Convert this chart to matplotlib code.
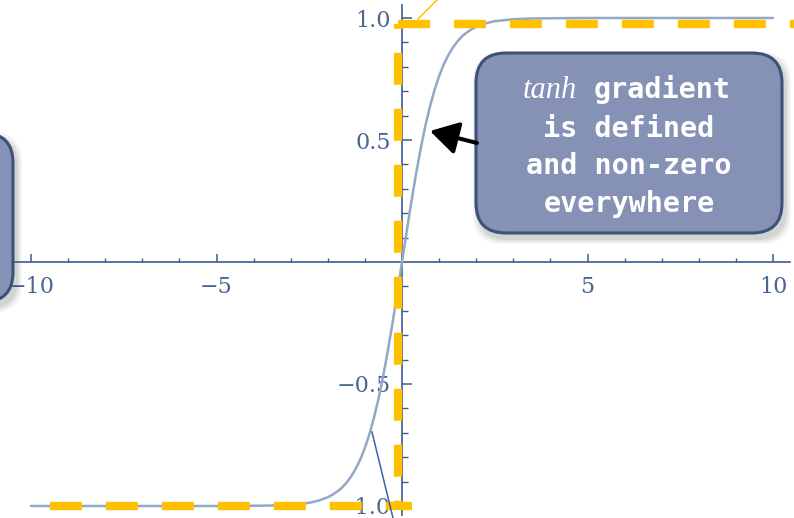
import numpy as np
import matplotlib.pyplot as plt
from matplotlib.patches import FancyBboxPatch, FancyArrowPatch
from matplotlib.lines import Line2D
from matplotlib.ticker import FixedLocator, FixedFormatter

# tanh curve, points
curve_x = [-10, -5, -4, -3.5, -3, -2.5, -2.25, -2, -1.875, -1.75, -1.625, -1.5, -1.375,
           -1.25, -1.125, -1, -0.875, -0.75, -0.625, -0.5, -0.375, -0.25, -0.125, 0,
           0.125, 0.25, 0.375, 0.5, 0.625, 0.75, 0.875, 1, 1.125, 1.25, 1.375, 1.5,
           1.625, 1.75, 1.875, 2, 2.25, 2.5, 3, 3.5, 4, 5, 10]
curve_y = [-1.0, -1.0, -0.999, -0.998, -0.995, -0.987, -0.978, -0.964, -0.954, -0.941,
           -0.926, -0.905, -0.880, -0.848, -0.810, -0.762, -0.704, -0.635, -0.555,
           -0.462, -0.358, -0.245, -0.124, 0.0, 0.124, 0.245, 0.358, 0.462, 0.555,
           0.635, 0.704, 0.762, 0.810, 0.848, 0.880, 0.905, 0.926, 0.941, 0.954, 0.964,
           0.978, 0.987, 0.995, 0.998, 0.999, 1.0, 1.0]

# orange dashed guides (saturation levels and the switch at x=0)
top_level = 0.975
bottom_level = -1.0
switch_x = -0.12
top_span = [-0.12, 10.8]
bottom_span = [-9.49, 0.27]

x_major = [-10, -5, 5, 10]
x_major_labels = ["\u221210", "\u22125", "5", "10"]
x_minor = [v for v in range(-10, 11) if v != 0]
y_major = [-1.0, -0.5, 0.5, 1.0]
y_major_labels = ["\u22121.0", "\u22120.5", "0.5", "1.0"]
y_minor = [round(v * 0.1, 1) for v in range(-10, 11) if v != 0]

callout_lines = ["is defined", "and non-zero", "everywhere"]

W, H = 794, 518
fig = plt.figure(figsize=(W / 100, H / 100), dpi=100)
ax = fig.add_axes([0, 0, 1, 1])
ax.set_facecolor("white")


def px(x, y):
    # pixel position (from top-left) -> inches for dpi_scale_trans
    return x / 100, (H - y) / 100


inch = fig.dpi_scale_trans
axis_col = "#3b5d8f"
label_col = "#4a6592"
orange = "#ffc000"

# curve
ax.plot(curve_x, curve_y, color="#93a7c7", lw=1.8, zorder=3, solid_capstyle="round")

# orange dashed guides (dash lengths in points, not scaled)
plt.rcParams["lines.scale_dashes"] = False
dash = (23, 17.3)
ax.add_line(Line2D(top_span, [top_level, top_level], color=orange, lw=6,
                   linestyle=(0, dash), zorder=4))
ax.add_line(Line2D([switch_x, switch_x], [top_level, bottom_level], color=orange, lw=6,
                   linestyle=(19.5, dash), zorder=4))
ax.add_line(Line2D(bottom_span, [bottom_level, bottom_level], color=orange, lw=6,
                   linestyle=(0, dash), zorder=4))

# axes crossing at the origin
for s in ["top", "right"]:
    ax.spines[s].set_visible(False)
ax.spines["left"].set_position(("data", 0))
ax.spines["bottom"].set_position(("data", 0))
ax.spines["left"].set_bounds(-1.037, 1.053)
ax.spines["bottom"].set_bounds(-10.43, 10.46)
for s in ["left", "bottom"]:
    ax.spines[s].set_color(axis_col)
    ax.spines[s].set_linewidth(1.2)

ax.xaxis.set_major_locator(FixedLocator(x_major))
ax.xaxis.set_major_formatter(FixedFormatter(x_major_labels))
ax.xaxis.set_minor_locator(FixedLocator(x_minor))
ax.yaxis.set_major_locator(FixedLocator(y_major))
ax.yaxis.set_major_formatter(FixedFormatter(y_major_labels))
ax.yaxis.set_minor_locator(FixedLocator(y_minor))

ax.tick_params(axis="x", which="major", direction="in", length=5.8, width=1.1,
               color=axis_col, pad=10, labelsize=16, labelcolor=label_col)
ax.tick_params(axis="x", which="minor", direction="in", length=3.2, width=1.0, color=axis_col)
ax.tick_params(axis="y", which="major", direction="in", length=7, width=1.1,
               color=axis_col, pad=8, labelsize=16, labelcolor=label_col)
ax.tick_params(axis="y", which="minor", direction="in", length=4.3, width=1.0, color=axis_col)
for lab in ax.get_xticklabels() + ax.get_yticklabels():
    lab.set_family("DejaVu Serif")


def callout(x0, y0, x1, y1, z):
    # soft shadow
    for i, a in enumerate([0.10, 0.08, 0.06]):
        g = 2 + 2 * i
        sh = FancyBboxPatch(px(x0 + 3, y1 + 5), (x1 - x0) / 100, (y1 - y0) / 100,
                            boxstyle="round,pad=%g,rounding_size=0.3" % (g / 100),
                            transform=inch, fc="#404040", ec="none", alpha=a, zorder=z)
        ax.add_patch(sh)
    box = FancyBboxPatch(px(x0, y1), (x1 - x0) / 100, (y1 - y0) / 100,
                         boxstyle="round,pad=0,rounding_size=0.3",
                         transform=inch, fc="#8591b5", ec="#3d5278", lw=2.2, zorder=z + 2)
    ax.add_patch(box)
    grad = np.linspace(0, 1, 100).reshape(-1, 1)
    bx0, by0 = px(x0, y1)
    bx1, by1 = px(x1, y0)
    im = ax.imshow(grad, cmap=plt.matplotlib.colors.LinearSegmentedColormap.from_list(
        "g", ["#7e8aaf", "#8a96ba", "#98a3c6"]), extent=(bx0, bx1, by0, by1),
        origin="lower", aspect="auto", zorder=z + 1, interpolation="bilinear")
    im.set_transform(inch)
    im.set_clip_path(box)
    return box


callout(476, 53, 782, 233, 6)
callout(-60, 133, 13, 302, 6)

# callout text
ax.text(*px(577, 98), "tanh", transform=inch, ha="right", va="baseline",
        family="Liberation Serif", style="italic", fontsize=22, color="white", zorder=10)
ax.text(*px(594, 98), "gradient", transform=inch, ha="left", va="baseline",
        family="DejaVu Sans Mono", weight="bold", fontsize=20.5, color="white", zorder=10)
for i, line in enumerate(callout_lines):
    ax.text(*px(629, 137 + 37.5 * i), line, transform=inch, ha="center", va="baseline",
            family="DejaVu Sans Mono", weight="bold", fontsize=20.5, color="white", zorder=10)

# arrow from the box to the curve
arr = FancyArrowPatch(px(477, 143), px(430, 131), transform=inch,
                      arrowstyle="-|>,head_length=0.85,head_width=0.5", mutation_scale=20,
                      color="black", lw=2.9, shrinkA=0, shrinkB=0, zorder=9)
ax.add_patch(arr)

# leftover thin connector lines
ax.add_line(Line2D(*zip(px(418, 19), px(437, 0)), transform=inch, color=orange, lw=1.1, zorder=5))
ax.add_line(Line2D(*zip(px(372, 432), px(393, 518)), transform=inch, color="#3a63a5", lw=1.1, zorder=5))

ax.set_xlim(-402 / 37.1, (W - 402) / 37.1)
ax.set_ylim(-(H - 262) / 244, 262 / 244)

fig.savefig("out.png", dpi=100)
